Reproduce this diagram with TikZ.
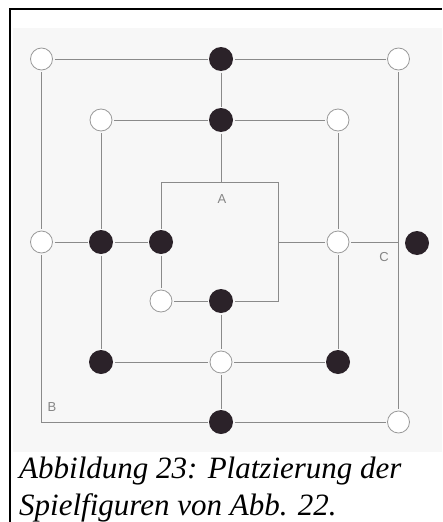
\documentclass[tikz,border=0pt]{standalone}
\usepackage{fontspec}
\setmainfont{Liberation Serif}
\newfontfamily\lblfont{Liberation Sans}
\definecolor{linegray}{HTML}{8A8A8A}
\definecolor{rimgray}{HTML}{9A9A9A}
\definecolor{piece}{HTML}{2B2229}
\definecolor{scanbg}{HTML}{F7F7F7}
\definecolor{lblgray}{HTML}{858585}
\begin{document}
\begin{tikzpicture}[x=1pt,y=-1pt,
  wpc/.style={circle,draw=rimgray,fill=white,line width=0.8pt,minimum size=22pt,inner sep=0pt,outer sep=2pt},
  bpc/.style={circle,fill=piece,minimum size=24pt,inner sep=0pt,outer sep=1.5pt},
  ln/.style={draw=linegray,line width=0.9pt},
  lbl/.style={font=\lblfont\fontsize{13}{13}\selectfont,text=lblgray,inner sep=0pt},
  captext/.style={font=\itshape\fontsize{31}{36}\selectfont,anchor=base west,inner sep=0pt}]
\useasboundingbox (0,0) rectangle (442,522);
\fill[white] (0,0) rectangle (442,522);
\fill[scanbg] (13,28) rectangle (442,452);
% frame
\draw[black,line width=1.4pt] (10,522) -- (10,9) -- (442,9);
% coordinates
\coordinate (blc) at (41.5,422);
\coordinate (aTop) at (221,182);
\coordinate (aTL) at (161,182);
\coordinate (aTR) at (278,182);
\coordinate (aBR) at (278,301);
\coordinate (aR) at (278,242);
\coordinate (cJ) at (398.5,242);
% pieces
\node[wpc] (o1) at (41.5,59) {};
\node[bpc] (o2) at (221,59) {};
\node[wpc] (o3) at (398.5,59) {};
\node[wpc] (m1) at (101,120) {};
\node[bpc] (m2) at (221,120) {};
\node[wpc] (m3) at (338,120) {};
\node[wpc] (r1) at (41.5,242) {};
\node[bpc] (r2) at (101,242) {};
\node[bpc] (r3) at (161,242) {};
\node[wpc] (r4) at (338,242) {};
\node[bpc] (r5) at (417,243) {};
\node[wpc] (i1) at (161,301) {};
\node[bpc] (i2) at (221,301) {};
\node[bpc] (b1) at (101,362) {};
\node[wpc] (b2) at (221,362) {};
\node[bpc] (b3) at (338,362) {};
\node[bpc] (u2) at (221,422) {};
\node[wpc] (u3) at (398.5,422) {};
% connectors
\path[ln] (o1) -- (o2) (o2) -- (o3);
\path[ln] (o1) -- (r1) (r1) -- (blc) -- (u2) (u2) -- (u3);
\path[ln] (o3) -- (u3);
\path[ln] (o2) -- (m2) (m2) -- (aTop);
\path[ln] (m1) -- (m2) (m2) -- (m3);
\path[ln] (m1) -- (r2) (r2) -- (b1);
\path[ln] (m3) -- (r4) (r4) -- (b3);
\path[ln] (r1) -- (r2) (r2) -- (r3);
\path[ln] (r3) -- (aTL) -- (aTR) -- (aBR) -- (i2);
\path[ln] (r3) -- (i1) (i1) -- (i2);
\path[ln] (aR) -- (r4) (r4) -- (cJ);
\path[ln] (i2) -- (b2) (b2) -- (u2);
\path[ln] (b1) -- (b2) (b2) -- (b3);
% labels
\node[lbl] (la) at (222,199) {A};
\node[lbl] (lc) at (384,257) {C};
\node[lbl] (lb) at (52,407) {B};
% caption
\node[captext] (cap1) at (19,478) {Abbildung 23: Platzierung der};
\node[captext] (cap2) at (19,515) {Spielfiguren von Abb. 22.};
\end{tikzpicture}
\end{document}
